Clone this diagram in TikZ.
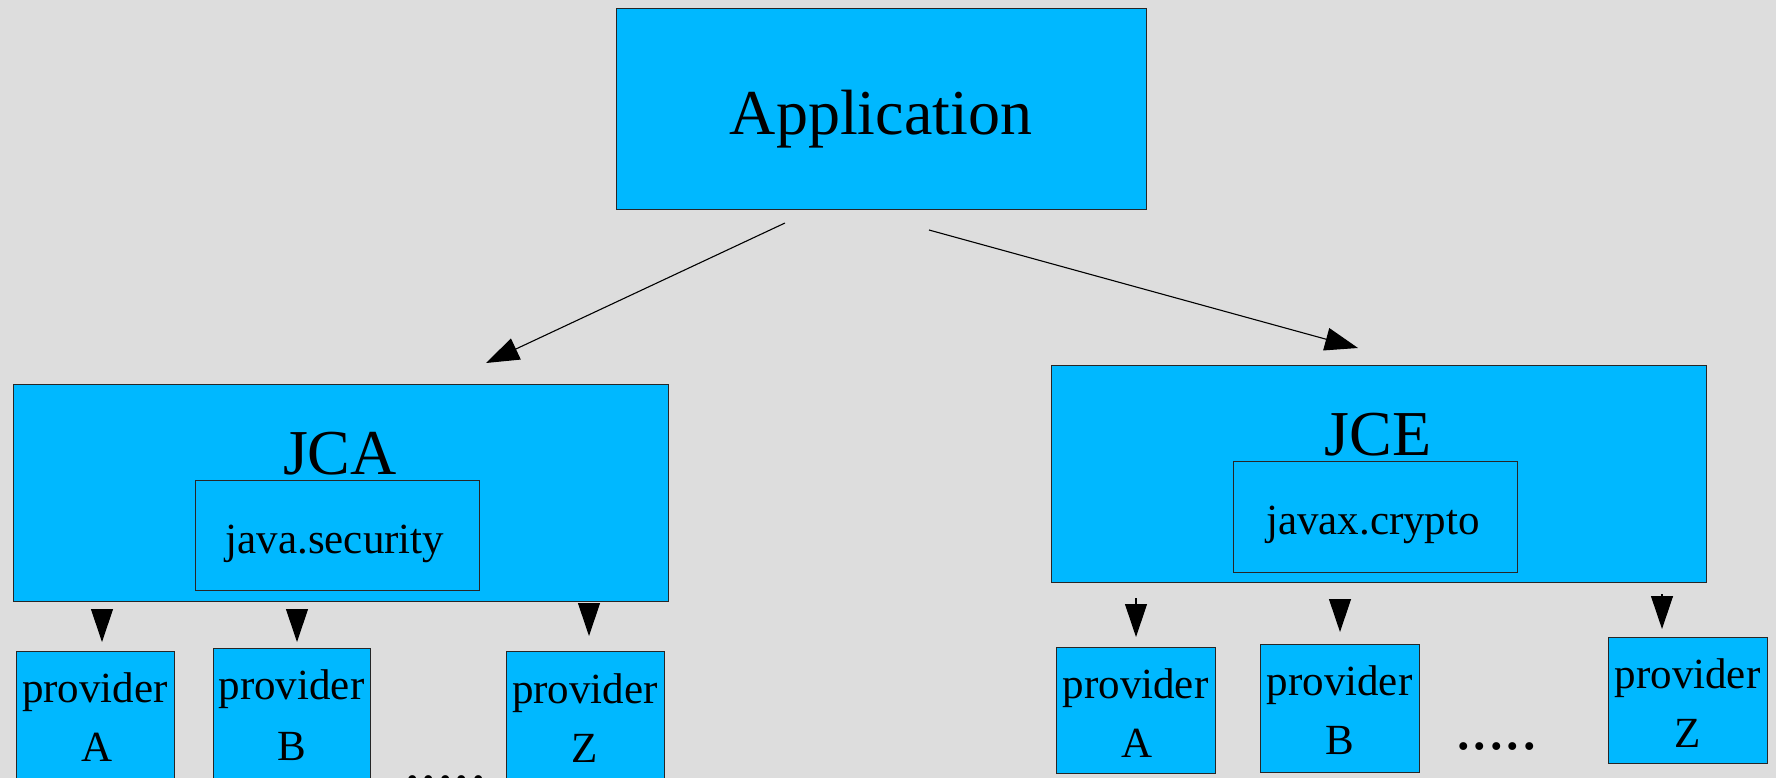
\documentclass[tikz,border=0pt]{standalone}
\usepackage{fontspec}
\setmainfont{Liberation Serif}
\usetikzlibrary{arrows.meta}
\definecolor{bg}{HTML}{DDDDDD}
\definecolor{boxfill}{HTML}{00B8FF}
\begin{document}
\begin{tikzpicture}[x=1pt,y=-1pt,
  box/.style={draw=black!85, line width=1pt, fill=boxfill, rectangle, inner sep=0pt},
  bigtext/.style={font=\fontsize{64}{64}\selectfont, inner sep=0pt, anchor=base},
  midtext/.style={font=\fontsize{43}{43}\selectfont, inner sep=0pt, anchor=base},
  dotstext/.style={font=\fontsize{66}{66}\selectfont, inner sep=0pt, anchor=base west},
  bigarrow/.style={line width=1.1pt, -{Triangle[length=33pt,width=23pt]}},
  provarrow/.style={line width=1.1pt, -{Triangle[length=33pt,width=22pt]}}]
  % canvas
  \fill[bg] (0,0) rectangle (1776,778);
  \useasboundingbox (0,0) rectangle (1776,778);
  \clip (0,0) rectangle (1776,778);

  % top level
  \node[box, minimum width=530pt, minimum height=200pt] (app) at (881,109) {};
  \node[bigtext] (apptxt) at (881,135) {Application};

  % JCA
  \node[box, minimum width=655pt, minimum height=217pt] (jca) at (340.5,492.5) {};
  \node[bigtext] (jcatxt) at (340,474) {JCA};
  \node[box, minimum width=284pt, minimum height=110pt] (jsec) at (337,535) {};
  \node[midtext] (jsectxt) at (335,553) {java.security};

  % JCE
  \node[box, minimum width=655pt, minimum height=217pt] (jce) at (1378.5,473.5) {};
  \node[bigtext] (jcetxt) at (1378,455) {JCE};
  \node[box, minimum width=284pt, minimum height=111pt] (jx) at (1375,516.5) {};
  \node[midtext] (jxtxt) at (1373,534) {javax.crypto};

  % JCA providers
  \node[box, minimum width=158pt, minimum height=139pt] (pA) at (95,720.5) {};
  \node[midtext] (pAt1) at (95,702) {provider};
  \node[midtext] (pAt2) at (97,761) {A};
  \node[box, minimum width=157pt, minimum height=142pt] (pB) at (291.5,719) {};
  \node[midtext] (pBt1) at (291.5,699) {provider};
  \node[midtext] (pBt2) at (291.5,760) {B};
  \node[box, minimum width=158pt, minimum height=139pt] (pZ) at (585,720.5) {};
  \node[midtext] (pZt1) at (585,703) {provider};
  \node[midtext] (pZt2) at (585,762) {Z};
  \node[dotstext] (pdots) at (404,782) {.....};

  % JCE providers
  \node[box, minimum width=159pt, minimum height=126pt] (qA) at (1135.5,710) {};
  \node[midtext] (qAt1) at (1135.5,698) {provider};
  \node[midtext] (qAt2) at (1137,757) {A};
  \node[box, minimum width=159pt, minimum height=128pt] (qB) at (1339.5,708) {};
  \node[midtext] (qBt1) at (1339.5,695) {provider};
  \node[midtext] (qBt2) at (1339.5,754) {B};
  \node[box, minimum width=159pt, minimum height=126pt] (qZ) at (1687.5,700) {};
  \node[midtext] (qZt1) at (1687.5,688) {provider};
  \node[midtext] (qZt2) at (1687.5,747) {Z};
  \node[dotstext] (qdots) at (1455,749) {.....};

  % connector end points
  \coordinate (aL) at (785,223);
  \coordinate (tL) at (486,363);
  \coordinate (aR) at (929,230);
  \coordinate (tR) at (1358,348);

  \coordinate (pAs) at (102,611);  \coordinate (pAe) at (102,642);
  \coordinate (pBs) at (297,611);  \coordinate (pBe) at (297,642);
  \coordinate (pZs) at (589,605);  \coordinate (pZe) at (589,636);
  \coordinate (qAs) at (1136,598); \coordinate (qAe) at (1136,637);
  \coordinate (qBs) at (1340,601); \coordinate (qBe) at (1340,632);
  \coordinate (qZs) at (1662,594); \coordinate (qZe) at (1662,629);

  % connectors
  \draw[bigarrow] (aL) -- (tL);
  \draw[bigarrow] (aR) -- (tR);

  \draw[provarrow] (pAs) -- (pAe);
  \draw[provarrow] (pBs) -- (pBe);
  \draw[provarrow] (pZs) -- (pZe);
  \draw[provarrow] (qAs) -- (qAe);
  \draw[provarrow] (qBs) -- (qBe);
  \draw[provarrow] (qZs) -- (qZe);
\end{tikzpicture}
\end{document}
